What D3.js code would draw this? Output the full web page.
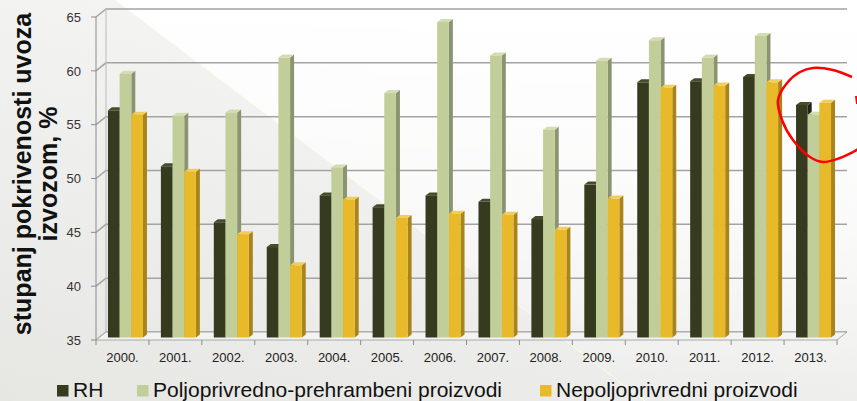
<!DOCTYPE html>
<html>
<head>
<meta charset="utf-8">
<script src="https://cdn.jsdelivr.net/npm/d3@7"></script>
<style>
  body { margin: 0; padding: 0; background: #fff; }
  svg { display: block; font-family: "Liberation Sans", Arial, sans-serif; }
</style>
</head>
<body>
<svg width="857" height="401"></svg>
<script>
// data
var years = ["2000.", "2001.", "2002.", "2003.", "2004.", "2005.", "2006.",
             "2007.", "2008.", "2009.", "2010.", "2011.", "2012.", "2013."];
var rh      = [56.1, 50.9, 45.7, 43.4, 48.2, 47.1, 48.2, 47.6, 46.0, 49.2, 58.7, 58.8, 59.2, 56.6];
var poljo   = [59.5, 55.6, 55.9, 61.0, 50.8, 57.7, 64.3, 61.2, 54.3, 60.7, 62.6, 61.0, 63.0, 55.7];
var nepoljo = [55.7, 50.4, 44.6, 41.7, 47.8, 46.1, 46.5, 46.4, 45.0, 47.9, 58.2, 58.4, 58.7, 56.8];
var seriesNames = ["RH", "Poljoprivredno-prehrambeni proizvodi", "Nepoljoprivredni proizvodi"];
var yTicks = [35, 40, 45, 50, 55, 60, 65];

var colors = [
  { front: "#363a1e", top: "#474c2a", side: "#22251a" },
  { front: "#c2ce99", top: "#d3ddb2", side: "#8a9470" },
  { front: "#e8ba2a", top: "#f1cd5c", side: "#a8841a" }
];

var svg = d3.select("svg"),
    W = +svg.attr("width"),
    H = +svg.attr("height");

// background
var defs = svg.append("defs");
var bg = defs.append("linearGradient").attr("id", "bg")
    .attr("x1", "0").attr("y1", "1").attr("x2", "0.6").attr("y2", "0");
bg.append("stop").attr("offset", "0").attr("stop-color", "#e6e6e3");
bg.append("stop").attr("offset", "1").attr("stop-color", "#f7f7f6");
var hl = defs.append("linearGradient").attr("id", "hl")
    .attr("x1", "0").attr("y1", "0").attr("x2", "0").attr("y2", "1");
hl.append("stop").attr("offset", "0").attr("stop-color", "#ffffff").attr("stop-opacity", 1);
hl.append("stop").attr("offset", "0.55").attr("stop-color", "#ffffff").attr("stop-opacity", 0.6);
hl.append("stop").attr("offset", "1").attr("stop-color", "#ffffff").attr("stop-opacity", 0);

svg.append("rect").attr("width", W).attr("height", H).attr("fill", "url(#bg)");
svg.append("path").attr("d", "M115,0L857,0L857,401L645,401Z").attr("fill", "url(#hl)");
svg.append("line").attr("x1", 115).attr("y1", 0).attr("x2", 645).attr("y2", 401)
    .attr("stroke", "#fbfbe6").attr("stroke-width", 1);

// 3d geometry
var dX = 10, dY = -8;
var x = d3.scaleBand().domain(years).range([96, 837]);
var y = d3.scaleLinear().domain([35, 65]).range([340, 17]);
var groupW = 35;
var xs = d3.scaleBand().domain(d3.range(3)).range([0, groupW]);
var barDx = 3, barDy = -2.5, sideW = 4, topH = 3;

var g = svg.append("g");

// left wall and back wall gridlines
var gridColor = "#a3a3a3";
g.selectAll(".grid").data(yTicks).enter().append("path")
    .attr("class", "grid")
    .attr("fill", "none")
    .attr("stroke", gridColor)
    .attr("stroke-width", 1.5)
    .attr("d", function(d) {
      return "M96," + y(d) + "L" + (96 + dX) + "," + (y(d) + dY) + "L" + (x.range()[1] + dX) + "," + (y(d) + dY);
    });

// wall edges
g.append("line").attr("x1", 96 + dX).attr("x2", 96 + dX)
    .attr("y1", y(65) + dY).attr("y2", y(35) + dY)
    .attr("stroke", "#bbbbbb").attr("stroke-width", 1);

// floor
var x0 = x.range()[0], x1 = x.range()[1];
g.append("path")
    .attr("d", "M" + x0 + "," + y(35) + "L" + x1 + "," + y(35) + "L" + (x1 + dX) + "," + (y(35) + dY) + "L" + (x0 + dX) + "," + (y(35) + dY) + "Z")
    .attr("fill", "#f3f3f3")
    .attr("stroke", "#a8a8a8")
    .attr("stroke-width", 1);

// front y axis
g.append("line").attr("x1", 96).attr("x2", 96).attr("y1", y(65)).attr("y2", y(35))
    .attr("stroke", "#8c8c8c").attr("stroke-width", 1);
g.selectAll(".ytick").data(yTicks).enter().append("line")
    .attr("x1", 91).attr("x2", 96)
    .attr("y1", function(d) { return y(d); }).attr("y2", function(d) { return y(d); })
    .attr("stroke", "#8c8c8c");
g.selectAll(".ylab").data(yTicks).enter().append("text")
    .attr("x", 81).attr("y", function(d) { return y(d); })
    .attr("dy", "0.36em")
    .attr("text-anchor", "end")
    .attr("font-size", 13)
    .attr("fill", "#333")
    .text(function(d) { return d; });

// x axis ticks and labels
g.selectAll(".xtick").data(years.concat(["end"])).enter().append("line")
    .attr("x1", function(d, i) { return x0 + i * x.bandwidth(); })
    .attr("x2", function(d, i) { return x0 + i * x.bandwidth(); })
    .attr("y1", y(35)).attr("y2", y(35) + 5)
    .attr("stroke", "#8c8c8c");
g.selectAll(".xlab").data(years).enter().append("text")
    .attr("x", function(d) { return x(d) + x.bandwidth() / 2; })
    .attr("y", 362)
    .attr("text-anchor", "middle")
    .attr("font-size", 13)
    .attr("fill", "#222")
    .text(function(d) { return d; });

// bars
var series = [rh, poljo, nepoljo];
var bars = [];
years.forEach(function(yr, i) {
  series.forEach(function(s, k) {
    bars.push({ year: yr, k: k, v: s[i] });
  });
});

var bar = g.selectAll(".bar").data(bars).enter().append("g").attr("class", "bar");
function bx(d) { return x(d.year) + (x.bandwidth() - groupW) / 2 + barDx + xs(d.k); }
var bw = xs.bandwidth();
var base = y(35) + barDy;

bar.append("path")
    .attr("fill", function(d) { return colors[d.k].side; })
    .attr("d", function(d) {
      var l = bx(d) + bw, t = y(d.v) + barDy;
      return "M" + l + "," + base + "L" + l + "," + t + "L" + (l + sideW) + "," + (t - topH) + "L" + (l + sideW) + "," + (base - topH) + "Z";
    });
bar.append("path")
    .attr("fill", function(d) { return colors[d.k].top; })
    .attr("d", function(d) {
      var l = bx(d), t = y(d.v) + barDy;
      return "M" + l + "," + t + "L" + (l + bw) + "," + t + "L" + (l + bw + sideW) + "," + (t - topH) + "L" + (l + sideW) + "," + (t - topH) + "Z";
    });
bar.append("rect")
    .attr("x", bx)
    .attr("y", function(d) { return y(d.v) + barDy; })
    .attr("width", bw)
    .attr("height", function(d) { return base - (y(d.v) + barDy); })
    .attr("fill", function(d) { return colors[d.k].front; });

// axis title
var title = svg.append("text")
    .attr("transform", "translate(44,174) rotate(-90)")
    .attr("text-anchor", "middle")
    .attr("font-size", 25)
    .attr("font-weight", "bold")
    .attr("fill", "#111");
title.append("tspan").attr("x", 0).attr("y", -13).text("stupanj pokrivenosti uvoza");
title.append("tspan").attr("x", 0).attr("y", 13).text("izvozom, %");

// legend
var legX = [57, 137, 540];
var leg = svg.selectAll(".leg").data(seriesNames).enter().append("g")
    .attr("transform", function(d, i) { return "translate(" + legX[i] + ",0)"; });
leg.append("rect").attr("x", 0).attr("y", 385).attr("width", 11.5).attr("height", 11.5)
    .attr("fill", function(d, i) { return colors[i].front; });
leg.append("text").attr("x", 16).attr("y", 397)
    .attr("font-size", 21)
    .attr("fill", "#111")
    .text(function(d) { return d; });

// hand drawn red circle around 2013
var circ = [[852, 77], [833, 70], [813, 68], [800, 72], [787, 83], [778, 100], [782, 120],
            [793, 140], [810, 157], [823, 162], [840, 158], [853, 152], [860, 148]];
svg.append("path")
    .attr("d", d3.line().curve(d3.curveCatmullRom)(circ))
    .attr("fill", "none")
    .attr("stroke", "#ff0000")
    .attr("stroke-width", 2.5);
svg.append("path").attr("d", "M856,96L857,104")
    .attr("stroke", "#ff0000").attr("stroke-width", 2);
</script>
</body>
</html>
